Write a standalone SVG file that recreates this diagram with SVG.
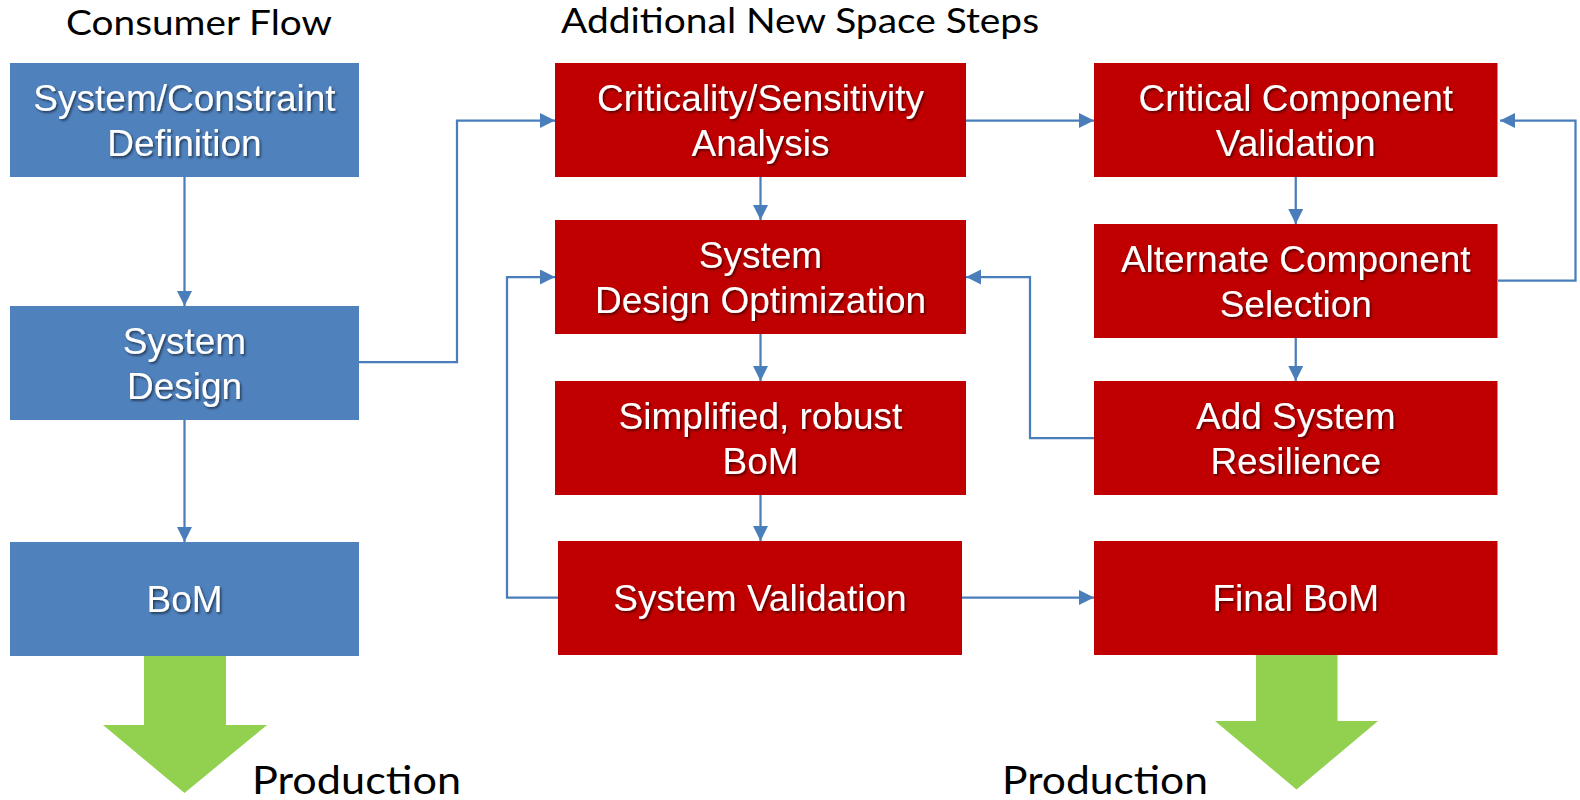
<svg xmlns="http://www.w3.org/2000/svg" width="1580" height="800" viewBox="0 0 1580 800">
<defs>
<style>
.blue{fill:#4F81BD}
.red{fill:#C00000}
.green{fill:#92D050}
.bt{font-family:"Liberation Sans",Arial,sans-serif;font-size:37px;fill:#FFFFFF;text-anchor:middle;filter:url(#sh)}
.title{font-family:Lato,"Open Sans",sans-serif;font-size:35px;fill:#000000}
.prod{font-family:Lato,"Open Sans",sans-serif;font-size:39px;fill:#000000}
.conn{fill:none;stroke:#4A7EBB;stroke-width:2.25;marker-end:url(#ah)}
</style>
<filter id="sh" x="-10%" y="-30%" width="120%" height="160%">
<feDropShadow dx="1.5" dy="1.8" stdDeviation="1" flood-color="#000000" flood-opacity="0.55"/>
</filter>
<marker id="ah" markerUnits="userSpaceOnUse" markerWidth="16" markerHeight="16" refX="15" refY="7.5" orient="auto">
<path d="M0,0 L15,7.5 L0,15 Z" fill="#4A7EBB"/>
</marker>
</defs>

<text class="title" x="66" y="35" textLength="266" lengthAdjust="spacingAndGlyphs">Consumer Flow</text>
<text class="title" x="561" y="32.5" textLength="478" lengthAdjust="spacingAndGlyphs">Additional New Space Steps</text>

<g id="connectors">
<path class="conn" d="M184.5,177 V306"/>
<path class="conn" d="M184.5,420 V542"/>
<path class="conn" d="M359,362 H457 V120.5 H555"/>
<path class="conn" d="M966,120.5 H1094"/>
<path class="conn" d="M760.5,177 V220"/>
<path class="conn" d="M760.5,334 V381"/>
<path class="conn" d="M760.5,495 V541"/>
<path class="conn" d="M558,597.5 H507 V277 H555"/>
<path class="conn" d="M962,597.5 H1094"/>
<path class="conn" d="M1094,438 H1030 V277 H966"/>
<path class="conn" d="M1295.75,177 V224"/>
<path class="conn" d="M1295.75,338 V381"/>
<path class="conn" d="M1498,280.5 H1575.5 V120.5 H1500"/>
</g>

<g id="n-sysdef">
<rect class="blue" x="10" y="63" width="349" height="114"/>
<text class="bt" x="184.5" y="110.5">System/Constraint</text>
<text class="bt" x="184.5" y="156">Definition</text>
</g>
<g id="n-sysdesign">
<rect class="blue" x="10" y="306" width="349" height="114"/>
<text class="bt" x="184.5" y="353.5">System</text>
<text class="bt" x="184.5" y="399">Design</text>
</g>
<g id="n-bom">
<rect class="blue" x="10" y="542" width="349" height="114"/>
<text class="bt" x="184.5" y="611.5">BoM</text>
</g>

<g id="n-crit">
<rect class="red" x="555" y="63" width="411" height="114"/>
<text class="bt" x="760.5" y="110.5">Criticality/Sensitivity</text>
<text class="bt" x="760.5" y="156">Analysis</text>
</g>
<g id="n-sdo">
<rect class="red" x="555" y="220" width="411" height="114"/>
<text class="bt" x="760.5" y="267.5">System</text>
<text class="bt" x="760.5" y="313">Design Optimization</text>
</g>
<g id="n-simp">
<rect class="red" x="555" y="381" width="411" height="114"/>
<text class="bt" x="760.5" y="428.5">Simplified, robust</text>
<text class="bt" x="760.5" y="474">BoM</text>
</g>
<g id="n-sysval">
<rect class="red" x="558" y="541" width="404" height="114"/>
<text class="bt" x="760" y="611">System Validation</text>
</g>

<g id="n-ccv">
<rect class="red" x="1094" y="63" width="403.5" height="114"/>
<text class="bt" x="1295.75" y="110.5">Critical Component</text>
<text class="bt" x="1295.75" y="156">Validation</text>
</g>
<g id="n-acs">
<rect class="red" x="1094" y="224" width="403.5" height="114"/>
<text class="bt" x="1295.75" y="271.5">Alternate Component</text>
<text class="bt" x="1295.75" y="317">Selection</text>
</g>
<g id="n-asr">
<rect class="red" x="1094" y="381" width="403.5" height="114"/>
<text class="bt" x="1295.75" y="428.5">Add System</text>
<text class="bt" x="1295.75" y="474">Resilience</text>
</g>
<g id="n-final">
<rect class="red" x="1094" y="541" width="403.5" height="114"/>
<text class="bt" x="1295.75" y="611">Final BoM</text>
</g>

<g id="prod-left">
<path class="green" d="M144,656 H226 V725 H267 L184.5,793 L103,725 H144 Z"/>
<text class="prod" x="252" y="793.5" textLength="209" lengthAdjust="spacingAndGlyphs">Production</text>
</g>
<g id="prod-right">
<path class="green" d="M1256,655 H1337.5 V721 H1378 L1296.5,789.5 L1215,721 H1256 Z"/>
<text class="prod" x="1002" y="794" textLength="206" lengthAdjust="spacingAndGlyphs">Production</text>
</g>
</svg>
